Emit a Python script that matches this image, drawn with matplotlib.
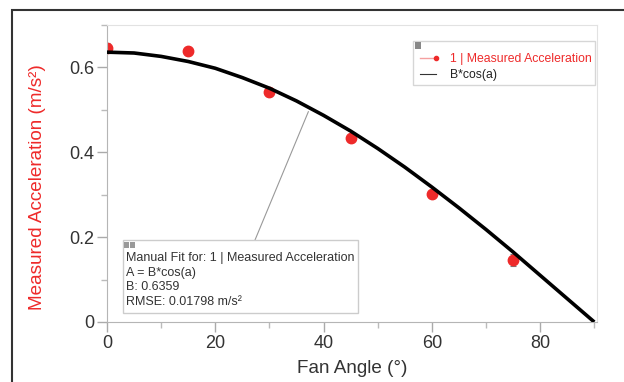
import matplotlib.pyplot as plt
from matplotlib.lines import Line2D
from matplotlib.patches import Rectangle
from matplotlib.ticker import FuncFormatter, MultipleLocator

plt.rcParams['font.family'] = ['Liberation Sans', 'DejaVu Sans']

# measured points
angle = [0, 15, 30, 45, 60, 75]
accel = [0.645, 0.638, 0.541, 0.433, 0.301, 0.146]
accel_err = [0.012, 0.008, 0.008, 0.008, 0.008, 0.014]

# manual fit curve B*cos(a), every 5 degrees
fit_angle = [0, 5, 10, 15, 20, 25, 30, 35, 40, 45, 50, 55, 60, 65, 70, 75, 80, 85, 90]
fit_accel = [0.636, 0.634, 0.626, 0.614, 0.598, 0.576, 0.551, 0.521, 0.487, 0.450,
             0.409, 0.365, 0.318, 0.269, 0.218, 0.165, 0.110, 0.055, 0.0]

fit_lines = ["Manual Fit for: 1 | Measured Acceleration",
             "A = B*cos(a)",
             "B: 0.6359",
             "RMSE: 0.01798 m/s\u00b2"]

RED = '#ee2a2a'
W, H = 624, 382


def px(x, y):
    # pixel (from top-left) -> figure fraction
    return x / W, 1 - y / H


fig = plt.figure(figsize=(6.24, 3.82), dpi=100)
ax = fig.add_axes([107 / W, (H - 322) / H, 490 / W, 297 / H])

ax.errorbar(angle, accel, yerr=accel_err, fmt='none', ecolor='#777777', elinewidth=0.8,
            capsize=2, capthick=0.8, zorder=1)
ax.plot(angle, accel, 'o', color=RED, ms=7.5, mec=RED, zorder=2)
ax.plot(fit_angle, fit_accel, color='black', lw=2.6, zorder=3, solid_capstyle='butt')

ax.set_xlim(0, 90.5)
ax.set_ylim(0, 0.70)
ax.xaxis.set_major_locator(MultipleLocator(20))
ax.xaxis.set_minor_locator(MultipleLocator(10))
ax.yaxis.set_major_locator(MultipleLocator(0.2))
ax.yaxis.set_minor_locator(MultipleLocator(0.1))
ax.yaxis.set_major_formatter(FuncFormatter(lambda v, p: '0' if abs(v) < 1e-9 else f'{v:.1f}'))

for s in ['top', 'right']:
    ax.spines[s].set_color('#e2e2e2')
for s in ['left', 'bottom']:
    ax.spines[s].set_color('#b5b5b5')
ax.tick_params(which='major', direction='out', length=7, width=1, color='#aaaaaa',
               labelsize=13, labelcolor='#333333', pad=2)
ax.tick_params(which='minor', direction='out', length=4, width=1, color='#bbbbbb')

ax.set_xlabel('Fan Angle (\u00b0)', fontsize=13.6, color='#333333')
ax.set_ylabel('Measured Acceleration (m/s\u00b2)', fontsize=13.6, color=RED)
ax.xaxis.set_label_coords(0.5, -0.128)
ax.yaxis.set_label_coords(-0.124, 0.455)

# legend
handles = [Line2D([], [], color='#f5a0a0', lw=1, marker='o', ms=3, mfc=RED, mec=RED),
           Line2D([], [], color='#333333', lw=0.8, marker='None')]
leg = ax.legend(handles, ['1 | Measured Acceleration', 'B*cos(a)'], title=' ',
                loc='upper right', bbox_to_anchor=px(595, 41), bbox_transform=fig.transFigure,
                fontsize=8.8, title_fontsize=3.5, frameon=True, fancybox=False, numpoints=2,
                edgecolor='#cccccc', borderpad=0.3, labelspacing=0.3,
                handlelength=1.9, handletextpad=0.8, borderaxespad=0)
leg.legend_handles[0].set_markevery([1])
leg.get_frame().set_linewidth(1)
leg.get_texts()[0].set_color(RED)
leg.get_texts()[1].set_color('#222222')
fig.add_artist(Rectangle(px(415, 49), 6 / W, 7 / H, transform=fig.transFigure,
                         fc='#888888', ec='none', zorder=6))

# fit annotation box
x0, y0 = px(123, 313)
x1, y1 = px(358, 240)
fig.add_artist(Rectangle((x0, y0), x1 - x0, y1 - y0, transform=fig.transFigure,
                         fc='white', ec='#cccccc', lw=1, zorder=5))
for i in range(2):
    fig.add_artist(Rectangle(px(124 + i * 6, 248), 5 / W, 6 / H, transform=fig.transFigure,
                             fc='#999999', ec='none', zorder=6))
for i, line in enumerate(fit_lines):
    fig.text(*px(126, 258 + i * 14.7), line, fontsize=9, color='#333333',
             va='center', ha='left', zorder=6)
ax.annotate('', xy=(37.2, 0.496), xytext=px(255, 240), textcoords='figure fraction',
            arrowprops=dict(arrowstyle='-', color='#999999', lw=0.8, shrinkA=0, shrinkB=0))

# outer frame
fig.add_artist(Rectangle(px(12, 400), 1.0, (400 - 10) / H, transform=fig.transFigure,
                         fill=False, ec='#333333', lw=1.5, clip_on=False))

fig.savefig('out.png', dpi=100)
